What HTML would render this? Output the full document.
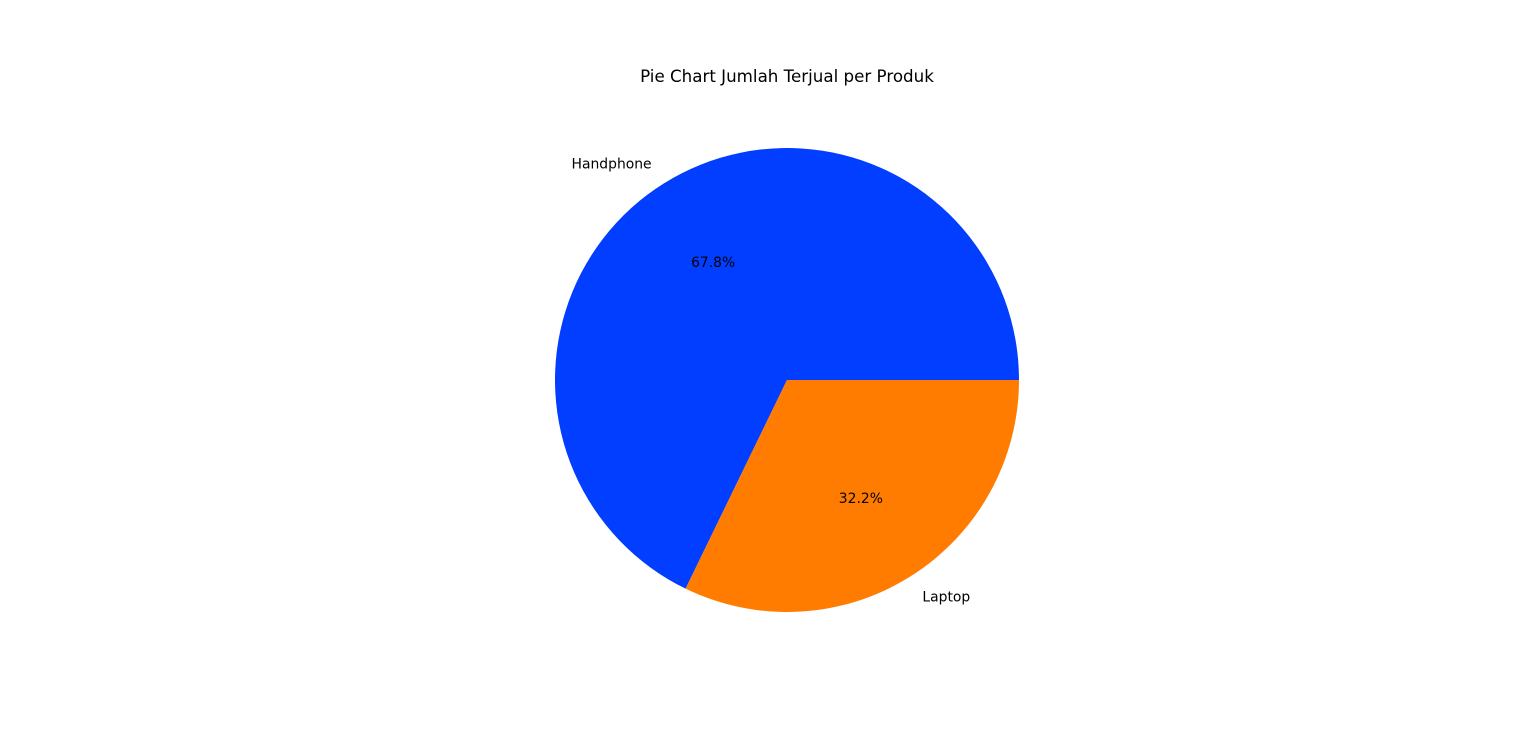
<!DOCTYPE html>
<html><head><meta charset="utf-8"><style>
html,body{margin:0;padding:0;background:#fff;}
svg{display:block;font-family:"DejaVu Sans","Liberation Sans",sans-serif;}
</style></head><body>
<svg id="chart" width="1536" height="754" viewBox="0 0 1536 754">
<text x="787" y="82" text-anchor="middle" font-size="16.7" fill="#000">Pie Chart Jumlah Terjual per Produk</text>
<g id="slices"></g>
</svg>
<script>
const categories = ["Handphone", "Laptop"];
const values = [67.8, 32.2];
const colors = ["#023eff", "#ff7c00"];
const cx = 787, cy = 380, r = 232;
const svg = document.getElementById('slices');
const NS = 'http://www.w3.org/2000/svg';
const total = values.reduce((a,b)=>a+b,0);
let start = 0;
function pt(a, rr){ return [cx + rr*Math.cos(a), cy - rr*Math.sin(a)]; }
values.forEach((v,i)=>{
  const frac = v/total;
  const a0 = start*2*Math.PI, a1 = (start+frac)*2*Math.PI;
  const [x0,y0] = pt(a0,r), [x1,y1] = pt(a1,r);
  const large = frac > 0.5 ? 1 : 0;
  const p = document.createElementNS(NS,'path');
  p.setAttribute('d',`M${cx},${cy} L${x0},${y0} A${r},${r} 0 ${large} 0 ${x1},${y1} Z`);
  p.setAttribute('fill',colors[i]);
  
  
  svg.appendChild(p);
  const mid = (a0+a1)/2;
  const [lx,ly] = pt(mid, r*1.1);
  const t = document.createElementNS(NS,'text');
  t.setAttribute('x',lx); t.setAttribute('y',ly+5);
  t.setAttribute('font-size','13.9');
  t.setAttribute('text-anchor', Math.cos(mid) < 0 ? 'end' : 'start');
  t.textContent = categories[i];
  
  
  svg.appendChild(t);
  const [px,py] = pt(mid, r*0.6);
  const q = document.createElementNS(NS,'text');
  q.setAttribute('x',px); q.setAttribute('y',py+5);
  q.setAttribute('font-size','13.9');
  q.setAttribute('text-anchor','middle');
  q.textContent = (frac*100).toFixed(1) + '%';
  
  
  svg.appendChild(q);
  start += frac;
});
</script>
</body></html>
